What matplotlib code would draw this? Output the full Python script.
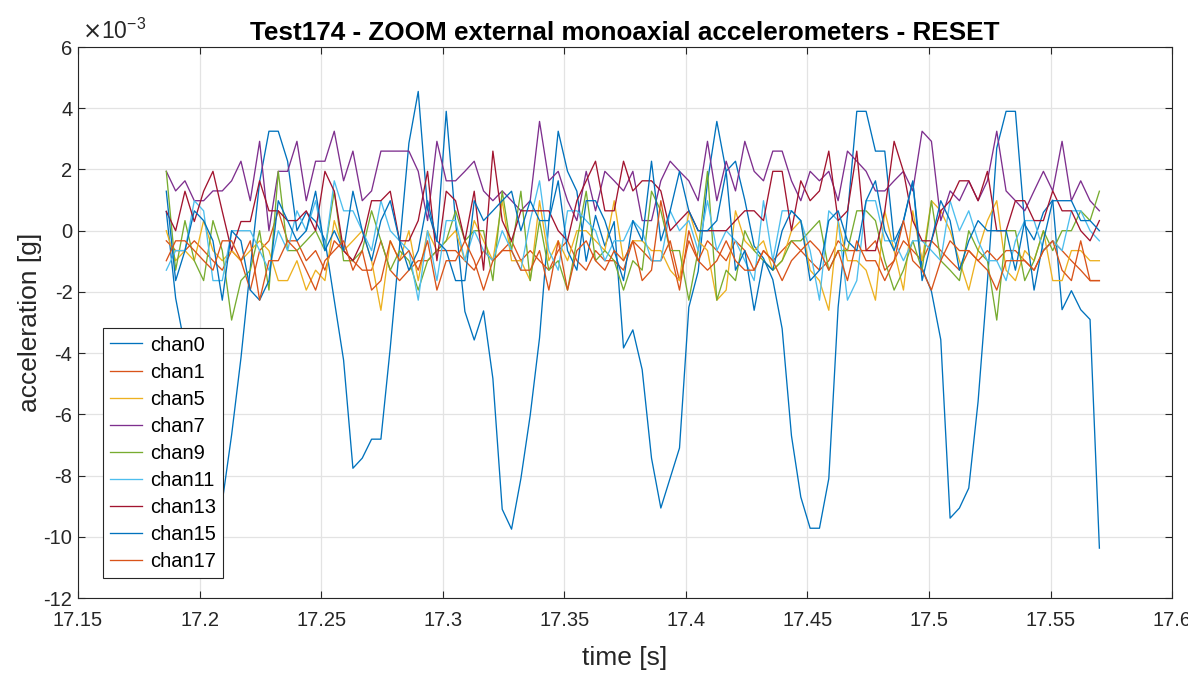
import numpy as np
import matplotlib
matplotlib.use("Agg")
import matplotlib.pyplot as plt
from matplotlib.ticker import FuncFormatter

plt.rcParams['font.family'] = ['Liberation Sans', 'DejaVu Sans']
plt.rcParams['axes.unicode_minus'] = False

# ---------------- data (acceleration in units of 1e-3 g) ----------------
t_start = 17.1863
t_end = 17.5701
n_samples = 101

chan0 = [0.63, -2.2, -3.8, -7.0, -9.2, -9.6, -8.85, -6.67, -4.16, -1.22,
         1.6, 3.25, 3.25, 2.27, 0.0, 0.6, 0.3, -0.3, -2.27, -4.23,
         -7.76, -7.43, -6.81, -6.81, -3.83, -0.5, 2.86, 4.55, 0.7, -0.35,
         3.9, 0.3, -2.64, -3.57, -2.62, -4.83, -9.1, -9.75, -8.1, -6.03,
         -3.5, 0.3, 3.25, 1.94, 1.29, -1.0, 0.5, -0.5, 0.3, -3.83,
         -3.24, -4.54, -7.43, -9.06, -8.08, -7.1, -2.5, -1.33, 1.6, 3.57,
         1.94, 2.27, 1.0, -0.5, -0.9, -1.6, -3.2, -6.7, -8.7, -9.72,
         -9.72, -8.1, -2.5, 0.5, 3.9, 3.9, 2.6, 2.6, -0.35, 0.3,
         1.6, -1.22, -1.98, -3.56, -9.39, -9.06, -8.41, -5.58, -1.66, 2.7,
         3.9, 3.9, 0.2, -0.3, 0.6, 1.0, -2.58, -1.96, -2.58, -2.9,
         -10.37]

chan1 = [-0.33, -0.65, -0.65, -0.33, -0.65, -0.98, -1.29, -0.65, -0.98, -1.94,
         -0.65, -0.33, 0.65, -0.33, -0.33, -0.98, -0.65, -1.29, -0.33, -0.65,
         -0.98, -1.29, -1.29, -0.33, -1.29, -1.63, -1.29, -0.98, -0.98, -0.65,
         -0.65, -0.65, -0.98, -1.29, -0.65, -0.98, -0.65, -0.33, -0.98, -0.65,
         -0.98, -1.29, -0.65, -0.33, -0.98, -1.29, -0.65, -0.98, -0.98, -1.29,
         -0.33, -0.65, -0.98, -0.98, -0.33, -1.63, -0.33, -0.98, -0.33, -0.65,
         -0.98, -0.33, -0.65, -1.29, -0.65, -0.98, -0.65, -0.33, -0.65, -0.98,
         -1.29, -0.98, -0.33, -0.65, -0.65, -0.65, -0.33, -1.29, -0.98, -0.33,
         -0.65, -0.98, -0.33, -0.65, -0.98, -1.29, -0.65, -0.98, -0.65, -0.98,
         -0.65, -0.65, -0.98, -1.29, -0.65, -0.33, -0.65, -0.98, -1.29, -1.63,
         -1.63]

chan5 = [0.0, -0.98, -0.65, -0.98, 0.33, -0.65, -0.98, -0.65, -0.98, -0.65,
         -0.33, -0.65, -1.63, -1.63, -0.98, -1.94, -1.29, -1.63, 0.33, -0.65,
         -0.33, 0.0, -0.98, -2.6, -0.33, -0.98, 0.0, -1.63, 0.0, -0.65,
         -0.33, 0.0, -0.98, 0.33, -0.33, -0.98, 0.98, -0.98, -0.98, -1.63,
         0.98, -0.98, -0.33, -0.98, 0.0, 0.0, -0.33, -0.65, 0.98, -0.98,
         -0.33, -0.33, -0.65, -0.65, -1.29, -1.63, 0.65, -0.33, -0.65, -2.27,
         -1.94, 0.65, -0.33, -0.65, -0.33, -1.29, -0.98, 0.0, 0.33, -1.29,
         -1.63, -2.6, 0.33, -0.98, -0.98, -1.29, -2.27, 0.65, -0.65, -1.94,
         0.65, -0.98, 0.98, 0.65, 0.0, -0.98, -1.94, -0.65, 0.33, 0.98,
         -1.29, -1.63, -0.65, -0.98, 0.0, -1.63, -1.63, -0.65, -0.65, -0.98,
         -0.98]

chan7 = [1.94, 1.3, 1.63, 0.98, 0.98, 1.3, 1.3, 1.63, 2.27, 0.98,
         2.92, 0.0, 1.94, 1.94, 2.92, 0.98, 2.27, 2.27, 3.25, 1.63,
         2.6, 0.98, 1.3, 2.6, 2.6, 2.6, 2.6, 1.94, 0.33, 2.92,
         1.63, 1.63, 1.94, 2.27, 1.3, 0.98, 1.3, 0.98, 0.65, 0.98,
         3.57, 1.63, 1.94, 0.98, 0.33, 1.94, 0.65, 1.94, 1.63, 1.3,
         1.94, 0.33, 0.33, 1.63, 2.27, 1.94, 1.63, 0.98, 2.92, 0.98,
         2.27, 1.3, 2.92, 1.94, 1.63, 2.6, 2.6, 1.63, 0.98, 1.94,
         1.63, 1.94, 0.98, 2.6, 2.27, 1.94, 1.3, 1.3, 1.63, 1.94,
         1.3, 3.25, 2.92, 0.33, 1.3, 0.98, 1.63, 0.98, 1.63, 3.25,
         1.3, 0.98, 0.65, 1.3, 1.94, 1.3, 2.92, 0.98, 1.63, 0.98,
         0.65]

chan9 = [1.94, -1.29, 0.33, -0.98, -1.63, 0.33, -0.65, -2.92, -1.63, -1.29,
         0.0, -1.94, 1.94, -0.65, -0.65, -0.33, 0.0, -0.65, 1.29, -0.98,
         -0.98, -0.65, 0.65, -0.33, -1.29, -0.65, -0.98, -1.94, -0.98, -0.65,
         -0.33, 0.65, -0.33, 0.0, 0.0, -1.63, 1.29, -0.65, 1.29, -1.63,
         0.33, -1.29, -0.98, -1.94, -0.33, 1.29, -0.98, -0.65, -0.98, -1.94,
         -0.98, -1.29, 1.29, 0.65, -0.65, -0.65, -2.27, -0.65, 1.94, -2.27,
         -1.29, -1.63, 0.0, -0.65, -0.98, -1.29, -0.98, -0.33, -0.33, 0.0,
         0.33, -1.29, -0.65, -0.65, 0.65, 0.65, 0.33, -0.98, -1.94, -1.29,
         -0.33, -1.29, 0.98, -0.98, -1.29, -1.63, 0.0, -0.65, -0.98, -2.92,
         0.0, 0.0, -1.63, -0.98, 0.0, -0.65, 0.0, 0.0, 0.65, 0.33,
         1.29]

chan11 = [-1.29, -0.65, -0.65, 0.98, 0.65, -1.63, -1.63, 0.0, 0.0, 0.0,
          -0.65, -1.29, 0.0, -0.65, 0.65, 0.0, 0.98, -0.65, 1.63, 0.65,
          0.65, 0.0, -0.65, 0.98, 0.0, -0.33, -0.65, -2.27, 0.0, -1.63,
          0.33, 0.33, -0.98, 0.0, -0.65, -0.98, 0.0, -0.65, -1.29, 0.33,
          1.63, -0.65, -1.29, 0.65, 0.65, 0.33, 0.0, -0.98, -0.33, -0.33,
          0.33, 0.0, -0.98, -0.98, 0.65, 0.0, 0.33, -0.65, 0.98, -0.65,
          0.0, -0.33, -0.98, -1.63, 0.98, -0.98, 0.65, 0.65, 0.33, -0.65,
          -2.27, 0.65, 0.33, -2.27, -1.63, 0.98, 0.98, -0.33, -0.33, -0.98,
          -0.33, -0.33, -0.65, -0.98, 0.98, 0.0, 0.65, -0.33, -0.98, -0.98,
          -1.63, -0.33, 0.33, 0.33, -0.65, -0.33, -0.65, 0.65, 0.65, 0.0,
          -0.33]

chan13 = [0.63, 0.0, 1.29, 0.3, 1.29, 1.94, 0.63, -0.65, 0.3, 0.3,
          1.63, 0.65, 0.65, 0.33, 0.33, 0.65, 0.0, 1.94, 1.29, -0.65,
          -0.98, -0.33, 0.98, 0.98, 1.29, -0.33, -0.33, 0.33, 1.94, -0.98,
          1.29, 0.98, -0.33, 1.29, -1.29, 2.6, 0.33, -0.33, 0.65, 0.65,
          0.65, 0.65, 0.0, -0.33, 0.98, 1.63, 2.27, 0.65, 0.65, 2.27,
          1.3, 1.63, 1.63, 1.3, 0.0, 0.33, 0.65, 0.0, 0.0, 0.0,
          0.0, 0.33, 0.65, 0.65, 0.33, 1.94, 1.94, 0.0, 1.63, 0.98,
          1.3, 2.6, 0.33, 0.65, 2.6, -0.65, -0.65, 0.65, 2.92, 1.94,
          0.33, -0.33, -0.33, 0.65, 0.98, 1.63, 1.63, 0.98, 1.94, 0.0,
          0.0, 0.98, 0.98, 0.33, 0.33, 1.3, 0.65, 0.65, 0.0, -0.33,
          0.33]

chan15 = [1.29, -1.63, -0.65, 0.65, 0.33, -0.33, -2.27, 0.0, -0.33, -1.94,
          -2.27, -1.63, 0.98, 0.33, -0.33, 0.0, 1.29, -0.65, 0.0, -0.65,
          1.29, 0.0, -0.98, 0.33, 0.98, -0.33, -1.29, -0.65, 0.98, -0.33,
          -0.65, -1.63, -1.63, 0.98, 0.33, 0.65, 0.98, 1.29, 0.0, 0.98,
          0.33, 0.33, 1.63, -0.65, -1.29, 0.98, 0.98, 0.33, -0.65, -1.63,
          0.33, -0.33, 2.27, -0.33, 0.65, 1.94, 0.65, 0.0, 0.0, 0.33,
          1.94, -1.29, -0.65, -2.6, -0.98, -1.29, 0.0, 0.65, 0.33, -1.63,
          -1.29, 0.33, 0.65, -0.33, -0.65, 0.98, 1.63, 0.0, -0.65, 0.33,
          1.63, -1.63, -0.33, 0.98, 0.33, -1.29, -0.33, 0.33, 0.0, 0.0,
          0.0, -1.29, 0.33, -1.94, -0.33, 0.98, 0.98, 0.98, 0.33, 0.33,
          0.0]

chan17 = [-0.98, -0.33, -0.33, -0.65, -0.98, -1.29, -0.33, -0.33, -0.98, -0.33,
          -2.27, -0.98, -0.98, -0.33, -0.65, -1.29, -1.94, -0.98, -0.65, -0.33,
          -1.29, -0.65, -1.94, -1.63, -0.33, -0.98, -0.65, -1.29, -0.33, -1.94,
          -0.98, -0.98, -0.33, -0.98, -1.94, -0.98, -0.65, -0.65, -1.29, -1.29,
          -0.65, -1.94, -0.33, -1.94, -0.65, -0.33, -0.98, -1.29, -0.65, -0.98,
          -0.33, -1.63, -1.29, 0.98, -0.65, -1.94, 0.0, -0.98, -1.29, -0.98,
          -0.33, -0.98, -1.29, -1.29, -0.65, -0.98, -1.63, -0.98, -0.65, -0.33,
          -0.65, -1.29, -0.65, -1.63, -0.33, -0.98, -0.98, -1.63, -0.98, 0.33,
          -0.98, -1.29, -1.94, -0.98, -0.33, -0.65, -0.65, -0.98, -1.29, -1.94,
          -0.98, -0.98, -0.98, -1.29, -0.65, -0.33, -1.29, -1.63, -0.33, -1.63,
          -1.63]

labels = ['chan0', 'chan1', 'chan5', 'chan7', 'chan9',
          'chan11', 'chan13', 'chan15', 'chan17']
series = [chan0, chan1, chan5, chan7, chan9, chan11, chan13, chan15, chan17]
colors = ['#0072BD', '#D95319', '#EDB120', '#7E2F8E', '#77AC30',
          '#4DBEEE', '#A2142F', '#0072BD', '#D95319']

xticks = [17.15, 17.2, 17.25, 17.3, 17.35, 17.4, 17.45, 17.5, 17.55, 17.6]
yticks = [-12, -10, -8, -6, -4, -2, 0, 2, 4, 6]

# ---------------- figure ----------------
time = np.linspace(t_start, t_end, n_samples)

fig = plt.figure(figsize=(11.88, 6.73), dpi=100)
ax = fig.add_axes([0.0657, 0.1114, 0.9209, 0.8187])

for vals, lab, col in zip(series, labels, colors):
    ax.plot(time, vals, color=col, lw=0.95, label=lab)

ax.set_xlim(17.15, 17.6)
ax.set_ylim(-12, 6)
ax.set_xticks(xticks)
ax.set_yticks(yticks)
ax.xaxis.set_major_formatter(FuncFormatter(lambda v, p: f'{v:g}'))
ax.yaxis.set_major_formatter(FuncFormatter(lambda v, p: f'{v:g}'))

ax.grid(True, color='#E3E3E3', lw=0.9)
ax.set_axisbelow(True)
for s in ax.spines.values():
    s.set_color('#262626')
    s.set_linewidth(0.8)
ax.tick_params(direction='in', length=5, width=0.8, colors='#262626',
               labelsize=14.5, top=True, right=True)
ax.tick_params(axis='x', pad=9)
ax.tick_params(axis='y', pad=4)

ax.set_xlabel('time [s]', fontsize=19, color='#262626', labelpad=12)
ax.set_ylabel('acceleration [g]', fontsize=19, color='#262626', labelpad=1)
ax.set_title('Test174 - ZOOM external monoaxial accelerometers - RESET',
             fontsize=18.8, fontweight='bold', pad=5)

ax.text(0.004, 1.005, r'$\times$10$^{\mathregular{-3}}$', transform=ax.transAxes,
        fontsize=16.5, color='#262626', ha='left', va='bottom')

leg = ax.legend(loc='lower left', bbox_to_anchor=(0.0229, 0.0363),
                borderaxespad=0, fontsize=14.5, frameon=True, fancybox=False,
                edgecolor='#262626', framealpha=1, handlelength=1.6,
                handletextpad=0.4, labelspacing=0.4, borderpad=0.35)
leg.get_frame().set_linewidth(0.8)

fig.savefig('out.png', dpi=100)
